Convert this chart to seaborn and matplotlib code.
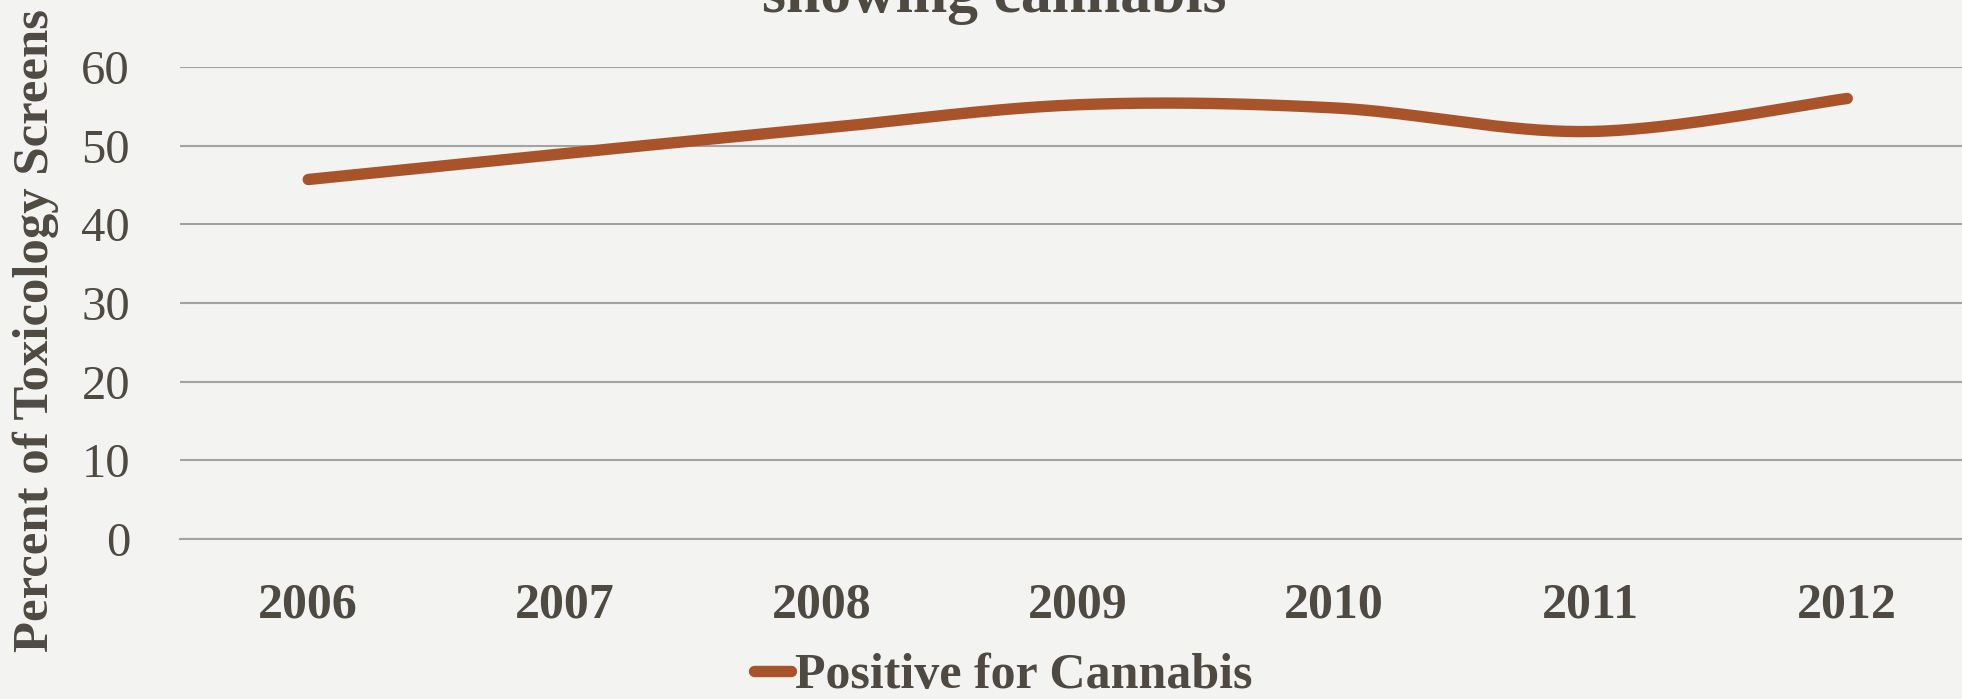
import numpy as np
import pandas as pd
import matplotlib
matplotlib.use("Agg")
import matplotlib.pyplot as plt
import seaborn as sns

# Share of toxicology screens positive for cannabis, by year
years = ["2006", "2007", "2008", "2009", "2010", "2011", "2012"]
positive_pct = [45.7, 49.0, 52.2, 55.2, 54.8, 51.8, 56.0]
y_ticks = [0, 10, 20, 30, 40, 50, 60]

title_text = "showing cannabis"
y_label = "Percent of Toxicology Screens"
series_label = "Positive for Cannabis"

TEXT = "#4f4a41"
LINE = "#a9532b"
GRID = "#a3a3a3"
BG = "#f3f3f1"
SERIF = ["Liberation Serif", "DejaVu Serif"]

sns.set_theme(style="white")
plt.rcParams["font.family"] = SERIF


def smooth_curve(xv, yv, steps=40):
    """Cubic Bezier smoothing through every point (spreadsheet-style smoothed line)."""
    xv = np.asarray(xv, float)
    yv = np.asarray(yv, float)
    n = len(xv)
    px, py = [], []
    for i in range(n - 1):
        x0, y0 = (xv[i - 1], yv[i - 1]) if i > 0 else (xv[i], yv[i])
        x3, y3 = (xv[i + 2], yv[i + 2]) if i + 2 < n else (xv[i + 1], yv[i + 1])
        p1 = np.array([xv[i], yv[i]])
        p2 = np.array([xv[i + 1], yv[i + 1]])
        c1 = p1 + (p2 - np.array([x0, y0])) / 6.0
        c2 = p2 - (np.array([x3, y3]) - p1) / 6.0
        t = np.linspace(0, 1, steps, endpoint=(i == n - 2))[:, None]
        pts = ((1 - t) ** 3) * p1 + 3 * ((1 - t) ** 2) * t * c1 + 3 * (1 - t) * t ** 2 * c2 + t ** 3 * p2
        px.append(pts[:, 0])
        py.append(pts[:, 1])
    return np.concatenate(px), np.concatenate(py)


pos = np.arange(len(years))
sx, sy = smooth_curve(pos, positive_pct)
curve = pd.DataFrame({"pos": sx, "pct": sy})

W, H = 1962, 699
fig = plt.figure(figsize=(W / 100, H / 100), dpi=100)
fig.patch.set_facecolor(BG)

left_px, right_px = 180, 1975.5
top_px, bottom_px = 67, 539
ax = fig.add_axes([left_px / W, 1 - bottom_px / H,
                   (right_px - left_px) / W, (bottom_px - top_px) / H])
ax.set_facecolor("none")

sns.lineplot(data=curve, x="pos", y="pct", ax=ax, color=LINE, linewidth=8.2,
             solid_capstyle="round", label=series_label, legend=False, zorder=3)

ax.set_xlim(-0.5, len(years) - 0.5)
ax.set_ylim(0, 60)
ax.set_xticks(pos)
ax.set_xticklabels(years, fontsize=36, fontweight="bold", color=TEXT)
ax.set_yticks(y_ticks)
ax.set_yticklabels([str(v) for v in y_ticks], fontsize=35, color=TEXT)
ax.tick_params(axis="x", length=0, pad=31)
ax.tick_params(axis="y", length=0, pad=36)
ax.set_xlabel("")
ax.set_ylabel("")

ax.yaxis.grid(True, color=GRID, linewidth=1.5)
ax.xaxis.grid(False)
ax.set_axisbelow(True)
for side in ["left", "right", "top"]:
    ax.spines[side].set_visible(False)
ax.spines["bottom"].set_color(GRID)
ax.spines["bottom"].set_linewidth(1.5)

# Axis title along the left edge
fig.text(36 / W, 1 - 330 / H, y_label, rotation=90, ha="center", va="center",
         fontsize=36.5, fontweight="bold", color=TEXT)

# Second line of the chart title, running off the top edge
fig.text(994 / W, 1 - 12 / H, title_text, ha="center", va="baseline",
         fontsize=44.5, fontweight="bold", color=TEXT)

# Legend below the axis labels
handles, labels = ax.get_lines()[:1], [series_label]
leg = fig.legend(handles, labels, loc="center", bbox_to_anchor=(1003 / W, 1 - 676 / H),
                 frameon=False, handlelength=0.75, handletextpad=0.08,
                 prop={"family": SERIF, "size": 36, "weight": "bold"},
                 borderpad=0, borderaxespad=0)
for t in leg.get_texts():
    t.set_color(TEXT)

fig.savefig("out.png", dpi=100, facecolor=BG)
